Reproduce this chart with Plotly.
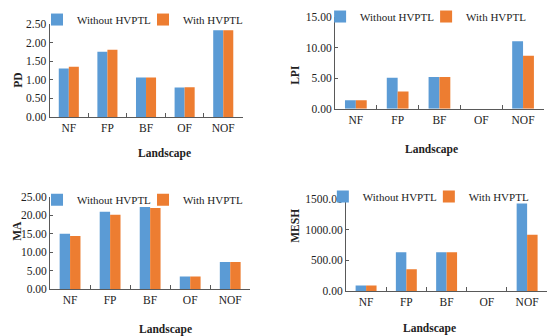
import plotly.graph_objects as go

categories = ["NF", "FP", "BF", "OF", "NOF"]
series_names = ["Without HVPTL", "With HVPTL"]

pd_without = [1.30, 1.75, 1.06, 0.79, 2.33]
pd_with = [1.35, 1.81, 1.06, 0.80, 2.33]

lpi_without = [1.4, 5.1, 5.2, 0.0, 11.05]
lpi_with = [1.4, 2.85, 5.2, 0.0, 8.7]

ma_without = [15.0, 21.0, 22.3, 3.4, 7.35]
ma_with = [14.4, 20.2, 22.0, 3.4, 7.35]

mesh_without = [88, 632, 632, 0, 1424]
mesh_with = [88, 353, 632, 0, 918]

y_titles = ["PD", "LPI", "MA", "MESH"]
y_max = [2.5, 15, 25, 1500]
y_dtick = [0.5, 5, 5, 500]

colors = ["#5B9BD5", "#ED7D31"]
FONT = "Liberation Serif, Times New Roman, serif"

panels = [
    (pd_without, pd_with),
    (lpi_without, lpi_with),
    (ma_without, ma_with),
    (mesh_without, mesh_with),
]

# domains (paper coords)
xdoms = [[0.090, 0.441], [0.609, 0.989], [0.091, 0.455], [0.629, 0.995]]
ydoms = [[0.652, 0.9286], [0.676, 0.949], [0.140, 0.4137], [0.134, 0.408]]
legend_pos = [(0.0673, 0.985), (0.582, 0.994), (0.0673, 0.449), (0.587, 0.458)]
ytitle_x = [0.018, 0.536, 0.016, 0.536]
xtitle_pos = [(0.247, 0.542), (0.836, 0.554), (0.249, 0.018), (0.833, 0.021)]

fig = go.Figure()
layout = {}
for i, (w, h) in enumerate(panels):
    n = "" if i == 0 else str(i + 1)
    lg = "legend" if i == 0 else f"legend{i+1}"
    for j, vals in enumerate([w, h]):
        fig.add_trace(go.Bar(
            x=categories, y=vals, name=series_names[j],
            marker=dict(color=colors[j], line=dict(width=0)),
            xaxis="x" + n, yaxis="y" + n, legend=lg,
        ))
    layout["xaxis" + n] = dict(
        domain=xdoms[i], anchor="y" + n, type="category",
        showline=True, linecolor="#595959", linewidth=1,
        ticks="inside", tickson="boundaries", ticklen=4, tickcolor="#595959",
        tickfont=dict(family=FONT, size=11.5, color="#222"),
        showgrid=False, zeroline=False, fixedrange=True,
    )
    layout["yaxis" + n] = dict(
        domain=ydoms[i], anchor="x" + n, range=[0, y_max[i]], dtick=y_dtick[i],
        tickformat=".2f", showline=True, linecolor="#595959", linewidth=1,
        ticks="inside", ticklen=3, tickcolor="#595959",
        tickfont=dict(family=FONT, size=11.5, color="#222"),
        showgrid=False, zeroline=False,
    )
    layout[lg] = dict(
        orientation="h", x=legend_pos[i][0], y=legend_pos[i][1],
        xanchor="left", yanchor="top", bgcolor="rgba(0,0,0,0)",
        font=dict(family=FONT, size=11, color="#222"),
        itemwidth=30, tracegroupgap=0, entrywidth=61, entrywidthmode="pixels",
    )

annotations = []
for i in range(4):
    annotations.append(dict(
        text=f"<b>{y_titles[i]}</b>", x=ytitle_x[i], y=sum(ydoms[i]) / 2,
        xref="paper", yref="paper", textangle=-90, showarrow=False,
        font=dict(family=FONT, size=11.5, color="#222"),
    ))
    annotations.append(dict(
        text="<b>Landscape</b>", x=xtitle_pos[i][0], y=xtitle_pos[i][1],
        xref="paper", yref="paper", showarrow=False, yanchor="middle",
        font=dict(family=FONT, size=11.5, color="#222"),
    ))

fig.update_layout(
    **layout,
    annotations=annotations,
    width=550, height=336,
    margin=dict(l=0, r=0, t=0, b=0, autoexpand=False),
    bargap=0.48, bargroupgap=0,
    plot_bgcolor="white", paper_bgcolor="white",
    showlegend=True,
)

fig.write_html(
    "out.html",
    config={"displayModeBar": False},
    post_script="document.body.style.margin='0';document.body.style.overflow='hidden';",
)
